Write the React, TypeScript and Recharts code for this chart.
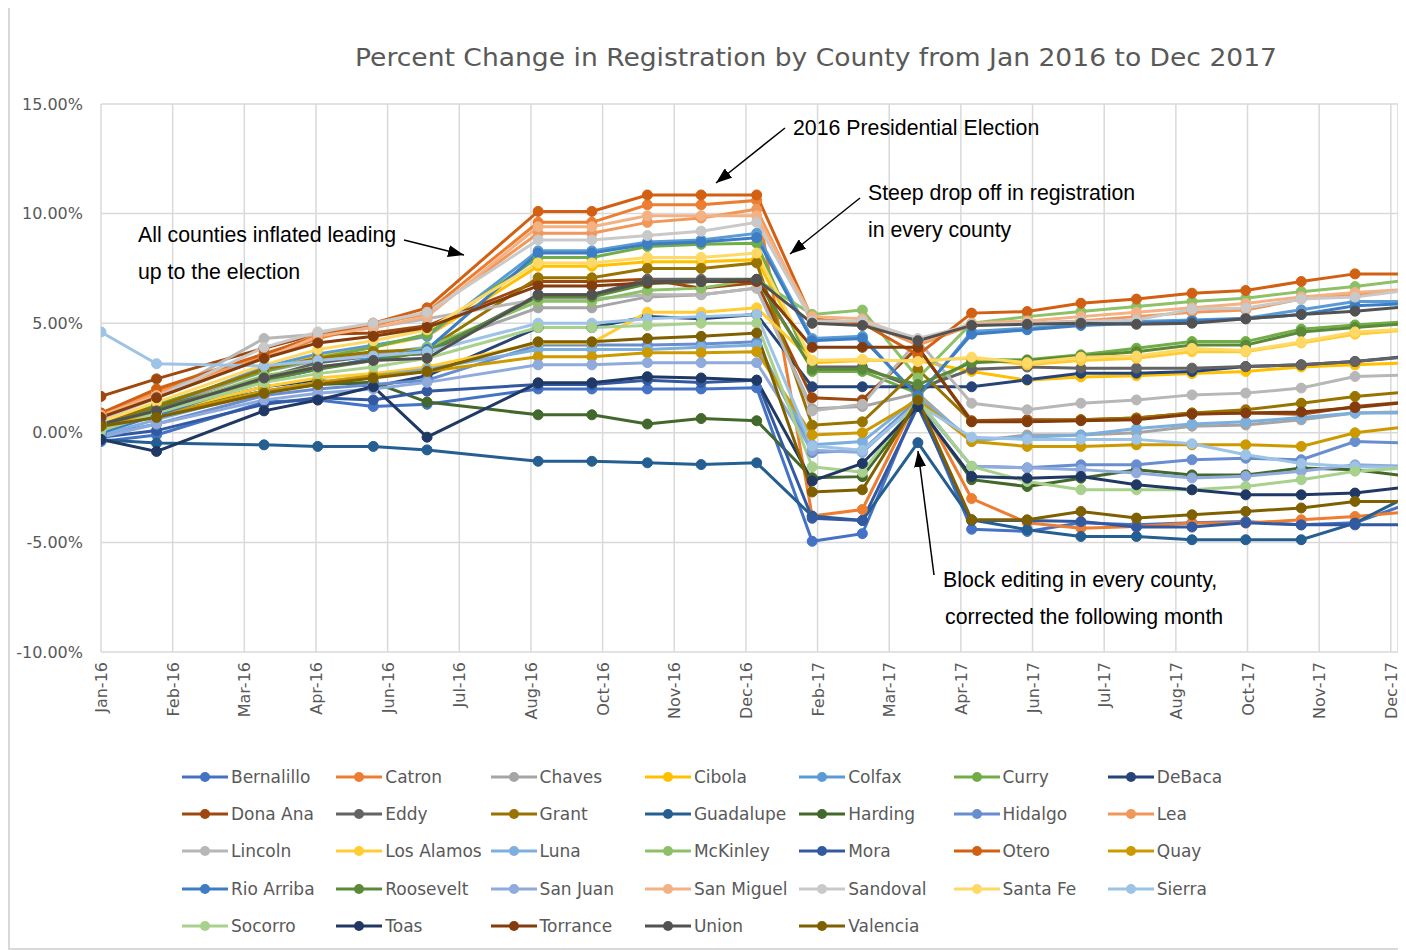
import React from "react"
import { LineChart, Line, XAxis, YAxis, CartesianGrid } from "recharts"

// snapshot dates (the last one is beyond the axis end and gets clipped, like the original)
const snapshotDates = [
    "2016-01-01", "2016-02-01", "2016-04-01", "2016-05-01", "2016-06-01", "2016-07-01",
    "2016-09-01", "2016-10-01", "2016-11-01", "2016-12-01", "2017-01-01", "2017-02-01",
    "2017-03-01", "2017-04-01", "2017-05-01", "2017-06-01", "2017-07-01", "2017-08-01",
    "2017-09-01", "2017-10-01", "2017-11-01", "2017-12-01", "2018-01-01",
]

const tickLabels = [
    "Jan-16", "Feb-16", "Mar-16", "Apr-16", "Jun-16", "Jul-16", "Aug-16", "Oct-16", "Nov-16", "Dec-16",
    "Feb-17", "Mar-17", "Apr-17", "Jun-17", "Jul-17", "Aug-17", "Oct-17", "Nov-17", "Dec-17",
]
const tickStepDays = 40
const axisEndDays = 724
const yTicks = [-10, -5, 0, 5, 10, 15]

// percent change per county
const bernalillo = [-0.4, -0.1, 1.4, 1.5, 1.2, 1.3, 2.0, 2.0, 2.0, 2.0, 2.05, -4.95, -4.6, 1.4, -4.4, -4.5, -4.1, -4.2, -4.1, -4.05, -4.2, -4.1, -3.2]
const catron = [0.8, 1.9, 3.4, 4.3, 4.9, 5.5, 9.6, 9.6, 10.4, 10.4, 10.6, -3.8, -3.5, 1.6, -3.0, -4.1, -4.35, -4.27, -4.12, -4.12, -3.97, -3.82, -3.59]
const chaves = [0.3, 1.1, 2.8, 3.3, 3.6, 3.9, 5.7, 5.7, 6.2, 6.3, 6.6, 1.1, 1.2, 1.8, -0.4, -0.1, -0.1, 0.0, 0.3, 0.36, 0.59, 0.9, 0.97]
const cibola = [0.4, 1.2, 2.9, 3.5, 3.9, 4.4, 7.6, 7.6, 7.8, 7.8, 7.9, 3.2, 3.3, 3.3, 2.8, 2.4, 2.55, 2.6, 2.7, 2.8, 3.0, 3.1, 3.2]
const colfax = [0.2, 1.1, 3.0, 3.6, 4.0, 4.4, 8.3, 8.3, 8.7, 8.8, 9.1, 4.3, 4.4, 1.6, 4.62, 4.77, 4.92, 5.08, 5.15, 5.23, 5.61, 5.99, 5.99]
const curry = [0.4, 1.3, 2.8, 3.4, 3.9, 4.5, 8.0, 8.0, 8.5, 8.6, 8.65, 2.8, 2.8, 1.8, 3.33, 3.33, 3.56, 3.86, 4.16, 4.16, 4.73, 4.92, 5.08]
const deBaca = [0.0, 0.9, 2.1, 2.4, 2.1, 2.6, 4.8, 4.8, 5.3, 5.2, 5.4, 2.1, 2.1, 2.1, 2.1, 2.42, 2.72, 2.72, 2.8, 3.02, 3.1, 3.25, 3.5]
const donaAna = [1.66, 2.46, 3.86, 4.5, 4.55, 4.88, 6.9, 6.9, 7.0, 6.6, 6.85, 1.6, 1.5, 3.9, 0.55, 0.6, 0.6, 0.67, 0.9, 0.9, 0.85, 1.2, 1.42]
const eddy = [0.5, 1.1, 2.5, 3.2, 3.5, 3.6, 6.3, 6.3, 7.0, 7.0, 7.0, 3.0, 3.0, 2.0, 2.9, 3.0, 2.95, 2.95, 2.95, 3.02, 3.1, 3.25, 3.48]
const grant = [0.5, 1.2, 2.9, 3.4, 3.7, 3.8, 7.07, 7.07, 7.5, 7.5, 7.75, 0.35, 0.5, 2.9, 0.52, 0.52, 0.59, 0.67, 0.9, 1.05, 1.35, 1.66, 1.88]
const guadalupe = [-0.32, -0.47, -0.55, -0.62, -0.62, -0.78, -1.3, -1.3, -1.37, -1.45, -1.37, -3.8, -4.0, -0.45, -3.97, -4.42, -4.73, -4.73, -4.88, -4.88, -4.88, -4.12, -2.83]
const harding = [0.4, 0.9, 1.9, 2.2, 2.3, 1.4, 0.82, 0.82, 0.4, 0.65, 0.55, -2.05, -2.0, 1.3, -2.14, -2.45, -2.07, -1.69, -1.92, -1.92, -1.61, -1.69, -1.99]
const hidalgo = [-0.1, 0.4, 1.7, 2.0, 2.2, 2.4, 4.0, 4.0, 4.0, 4.05, 4.15, -0.9, -0.8, 1.5, -1.53, -1.6, -1.46, -1.46, -1.23, -1.16, -1.23, -0.4, -0.47]
const lea = [0.9, 1.8, 3.5, 4.5, 5.0, 5.4, 9.1, 9.1, 9.6, 9.8, 10.2, 5.0, 5.1, 4.0, 4.9, 5.0, 5.1, 5.3, 5.5, 5.6, 6.1, 6.3, 6.5]
const lincoln = [0.6, 1.6, 4.3, 4.5, 4.8, 5.2, 6.1, 6.1, 6.3, 6.3, 6.6, 1.0, 1.3, 4.2, 1.35, 1.05, 1.35, 1.5, 1.73, 1.81, 2.04, 2.57, 2.64]
const losAlamos = [0.3, 0.9, 2.1, 2.5, 2.7, 3.0, 4.1, 4.1, 5.5, 5.5, 5.7, 3.3, 3.3, 3.3, 3.4, 3.1, 3.3, 3.4, 3.7, 3.7, 4.1, 4.5, 4.7]
const luna = [-0.1, 0.6, 1.9, 2.3, 2.6, 2.9, 3.8, 3.8, 3.8, 3.9, 4.0, -0.55, -0.4, 1.6, -0.3, -0.2, -0.1, 0.2, 0.4, 0.5, 0.7, 0.9, 0.9]
const mcKinley = [0.2, 1.0, 2.6, 3.0, 3.3, 3.9, 6.0, 6.0, 6.5, 6.6, 7.0, 5.4, 5.6, 2.5, 5.0, 5.3, 5.53, 5.76, 5.99, 6.14, 6.44, 6.67, 6.98]
const mora = [-0.2, 0.1, 1.3, 1.6, 1.5, 1.9, 2.2, 2.2, 2.4, 2.3, 2.4, -3.9, -4.0, 1.2, -4.0, -4.0, -4.05, -4.3, -4.3, -4.1, -4.2, -4.2, -4.2]
const otero = [0.9, 2.0, 3.6, 4.4, 5.0, 5.7, 10.1, 10.1, 10.85, 10.85, 10.85, 5.2, 5.0, 3.55, 5.46, 5.53, 5.91, 6.1, 6.37, 6.49, 6.9, 7.25, 7.25]
const quay = [0.4, 0.8, 1.9, 2.3, 2.6, 2.8, 3.47, 3.47, 3.65, 3.65, 3.7, -0.1, 0.0, 1.5, -0.4, -0.62, -0.62, -0.55, -0.55, -0.55, -0.62, 0.0, 0.3]
const rioArriba = [0.0, 0.8, 2.4, 2.9, 3.4, 3.8, 8.2, 8.2, 8.6, 8.7, 8.9, 4.2, 4.3, 1.7, 4.5, 4.7, 4.9, 5.0, 5.1, 5.2, 5.4, 5.8, 5.9]
const roosevelt = [0.3, 1.1, 2.4, 2.9, 3.3, 3.7, 6.2, 6.2, 6.8, 6.9, 7.0, 2.9, 2.9, 2.2, 3.2, 3.3, 3.5, 3.7, 4.0, 4.0, 4.6, 4.8, 5.0]
const sanJuan = [-0.2, 0.4, 1.5, 1.8, 2.0, 2.3, 3.1, 3.1, 3.2, 3.2, 3.2, -0.8, -0.9, 1.4, -1.53, -1.6, -1.68, -1.83, -2.06, -1.98, -1.75, -1.46, -1.53]
const sanMiguel = [0.8, 1.7, 3.4, 4.4, 4.8, 5.3, 9.4, 9.4, 9.9, 9.9, 9.9, 5.3, 5.2, 4.1, 5.0, 5.1, 5.3, 5.5, 5.7, 5.9, 6.2, 6.4, 6.55]
const sandoval = [0.6, 1.6, 3.9, 4.6, 5.0, 5.5, 8.8, 8.8, 9.0, 9.2, 9.6, 5.1, 5.1, 4.3, 4.92, 5.0, 5.08, 5.15, 5.64, 5.69, 6.1, 6.19, 6.52]
const santaFe = [0.5, 1.4, 3.1, 3.8, 4.2, 4.7, 7.75, 7.75, 8.0, 8.0, 8.2, 3.3, 3.35, 3.25, 3.45, 3.2, 3.45, 3.5, 3.85, 3.75, 4.15, 4.6, 4.75]
const sierra = [4.6, 3.15, 3.05, 3.3, 3.5, 3.7, 5.0, 5.0, 5.2, 5.3, 5.4, -0.6, -0.8, 1.3, -0.2, -0.3, -0.3, -0.3, -0.5, -1.0, -1.4, -1.55, -1.6]
const socorro = [0.1, 0.9, 2.3, 2.7, 3.0, 3.4, 4.8, 4.8, 4.9, 5.0, 5.0, -1.55, -1.8, 1.5, -1.53, -2.22, -2.6, -2.6, -2.6, -2.45, -2.14, -1.75, -1.6]
const toas = [-0.3, -0.85, 1.0, 1.5, 2.1, -0.2, 2.28, 2.28, 2.56, 2.5, 2.4, -2.2, -1.4, 1.2, -1.99, -2.07, -1.99, -2.37, -2.6, -2.83, -2.83, -2.75, -2.45]
const torrance = [0.7, 1.6, 3.4, 4.1, 4.4, 4.8, 6.7, 6.7, 6.85, 6.9, 6.9, 3.9, 3.9, 3.9, 0.5, 0.5, 0.55, 0.6, 0.85, 0.9, 0.95, 1.15, 1.4]
const union = [0.4, 1.0, 2.5, 3.0, 3.3, 3.4, 6.3, 6.3, 6.9, 6.9, 7.0, 5.0, 4.9, 4.2, 4.9, 4.95, 5.0, 4.95, 5.0, 5.2, 5.4, 5.55, 5.76]
const valencia = [0.3, 0.7, 1.8, 2.2, 2.5, 2.8, 4.15, 4.15, 4.3, 4.4, 4.55, -2.7, -2.6, 1.5, -3.97, -3.97, -3.59, -3.89, -3.74, -3.59, -3.43, -3.13, -3.13]

const series = [
    { name: "Bernalillo", color: "#4472C4", values: bernalillo },
    { name: "Catron", color: "#ED7D31", values: catron },
    { name: "Chaves", color: "#A5A5A5", values: chaves },
    { name: "Cibola", color: "#FFC000", values: cibola },
    { name: "Colfax", color: "#5B9BD5", values: colfax },
    { name: "Curry", color: "#70AD47", values: curry },
    { name: "DeBaca", color: "#264478", values: deBaca },
    { name: "Dona Ana", color: "#9E480E", values: donaAna },
    { name: "Eddy", color: "#636363", values: eddy },
    { name: "Grant", color: "#997300", values: grant },
    { name: "Guadalupe", color: "#255E91", values: guadalupe },
    { name: "Harding", color: "#43682B", values: harding },
    { name: "Hidalgo", color: "#698ED0", values: hidalgo },
    { name: "Lea", color: "#F1975A", values: lea },
    { name: "Lincoln", color: "#B7B7B7", values: lincoln },
    { name: "Los Alamos", color: "#FFCD33", values: losAlamos },
    { name: "Luna", color: "#7CAFDD", values: luna },
    { name: "McKinley", color: "#8CC168", values: mcKinley },
    { name: "Mora", color: "#335AA1", values: mora },
    { name: "Otero", color: "#D26012", values: otero },
    { name: "Quay", color: "#CC9A00", values: quay },
    { name: "Rio Arriba", color: "#3C7DC4", values: rioArriba },
    { name: "Roosevelt", color: "#5A8A39", values: roosevelt },
    { name: "San Juan", color: "#8FAADC", values: sanJuan },
    { name: "San Miguel", color: "#F4B183", values: sanMiguel },
    { name: "Sandoval", color: "#C9C9C9", values: sandoval },
    { name: "Santa Fe", color: "#FFD966", values: santaFe },
    { name: "Sierra", color: "#9DC3E6", values: sierra },
    { name: "Socorro", color: "#A9D18E", values: socorro },
    { name: "Toas", color: "#203864", values: toas },
    { name: "Torrance", color: "#843C0C", values: torrance },
    { name: "Union", color: "#525252", values: union },
    { name: "Valencia", color: "#7F6000", values: valencia },
]

const dayOf = (iso: string) => {
    const [y, m, d] = iso.split("-").map(Number)
    return (Date.UTC(y, m - 1, d) - Date.UTC(2016, 0, 1)) / 86400000
}

const rows = snapshotDates.map((iso, i) => {
    const row: Record<string, number> = { x: dayOf(iso) }
    series.forEach((s) => { row[s.name] = s.values[i] })
    return row
})

const tickDays = tickLabels.map((_, i) => i * tickStepDays)
const lastIndex = snapshotDates.length - 1

const axisText = "#595959"
const gridColor = "#D9D9D9"
const axisFont = "'DejaVu Sans', sans-serif"
const noteFont = "'Liberation Sans', Arial, sans-serif"

function XTick({ x, y, payload }: any) {
    const i = tickDays.indexOf(payload.value)
    return (
        <text transform={`translate(${x + 6},${y + 10}) rotate(-90)`} textAnchor="end" fill={axisText} fontSize={16} fontFamily={axisFont}>
            {tickLabels[i]}
        </text>
    )
}

function makeDot(name: string, color: string) {
    return (p: any) => {
        if (p.index === lastIndex) return <g key={`${name}-${p.index}`} />
        return <circle key={`${name}-${p.index}`} cx={p.cx} cy={p.cy} r={5} fill={color} stroke={color} strokeWidth={1} />
    }
}

function Arrow({ from, to }: { from: [number, number]; to: [number, number] }) {
    return <line x1={from[0]} y1={from[1]} x2={to[0]} y2={to[1]} stroke="#000" strokeWidth={1.5} markerEnd="url(#arrowHead)" />
}

export default function App() {
    return (
        <div style={{ position: "relative", width: 1406, height: 950, margin: "-8px 0 0 -8px", background: "#fff", overflow: "hidden" }}>
            <div style={{ position: "absolute", left: 8, top: 4, width: 1410, height: 942, border: `2px solid ${gridColor}` }} />

            <div style={{ position: "absolute", left: 0, top: 0 }}>
                <LineChart width={1406} height={740} data={rows} margin={{ top: 104, right: 8, bottom: 40, left: 11 }}>
                    <CartesianGrid stroke={gridColor} strokeWidth={1.5} />
                    <XAxis
                        type="number"
                        dataKey="x"
                        domain={[0, axisEndDays]}
                        allowDataOverflow
                        ticks={tickDays}
                        interval={0}
                        tick={<XTick />}
                        tickSize={0}
                        tickMargin={0}
                        axisLine={false}
                        tickLine={false}
                        height={48}
                    />
                    <YAxis
                        type="number"
                        domain={[-10, 15]}
                        ticks={yTicks}
                        interval={0}
                        tickFormatter={(v: number) => `${v.toFixed(2)}%`}
                        tick={{ fill: axisText, fontSize: 16, fontFamily: axisFont }}
                        axisLine={false}
                        tickLine={false}
                        tickSize={0}
                        tickMargin={18}
                        width={90}
                    />
                    {series.map((s) => (
                        <Line
                            key={s.name}
                            type="linear"
                            dataKey={s.name}
                            stroke={s.color}
                            strokeWidth={3}
                            dot={makeDot(s.name, s.color)}
                            activeDot={false}
                            isAnimationActive={false}
                        />
                    ))}
                </LineChart>
            </div>

            <svg width={1406} height={950} style={{ position: "absolute", left: 0, top: 0, pointerEvents: "none" }}>
                <defs>
                    <marker id="arrowHead" markerUnits="userSpaceOnUse" markerWidth={16} markerHeight={12} refX={16} refY={6} viewBox="0 0 16 12" orient="auto">
                        <path d="M0,0 L16,6 L0,12 z" fill="#000" />
                    </marker>
                </defs>
                <text x={355} y={66} fontSize={24} fill={axisText} fontFamily={axisFont} textLength={922} lengthAdjust="spacingAndGlyphs">
                    Percent Change in Registration by County from Jan 2016 to Dec 2017
                </text>

                <g fontFamily={noteFont} fontSize={21.3} fill="#000">
                    <text x={793} y={135}>2016 Presidential Election</text>
                    <text x={868} y={200}>Steep drop off in registration</text>
                    <text x={868} y={237}>in every county</text>
                    <text x={138} y={242}>All counties inflated leading</text>
                    <text x={138} y={279}>up to the election</text>
                    <text x={943} y={587}>Block editing in every county,</text>
                    <text x={945} y={624}>corrected the following month</text>
                </g>
                <Arrow from={[404, 240]} to={[464, 255]} />
                <Arrow from={[785, 128]} to={[716, 183]} />
                <Arrow from={[860, 198]} to={[790, 254]} />
                <Arrow from={[934, 575]} to={[918, 451]} />
            </svg>

            {series.map((s, i) => {
                const col = i % 7
                const row = Math.floor(i / 7)
                return (
                    <div
                        key={s.name}
                        style={{
                            position: "absolute",
                            left: 182 + col * 154.3,
                            top: 777 + row * 37.2 - 11,
                            height: 22,
                            display: "flex",
                            alignItems: "center",
                            whiteSpace: "nowrap",
                        }}
                    >
                        <svg width={48} height={12} style={{ flex: "none" }}>
                            <line x1={0} y1={6} x2={46} y2={6} stroke={s.color} strokeWidth={3} />
                            <circle cx={23} cy={6} r={5} fill={s.color} />
                        </svg>
                        <span style={{ fontFamily: axisFont, fontSize: 17, color: axisText, marginLeft: 1 }}>{s.name}</span>
                    </div>
                )
            })}
        </div>
    )
}
